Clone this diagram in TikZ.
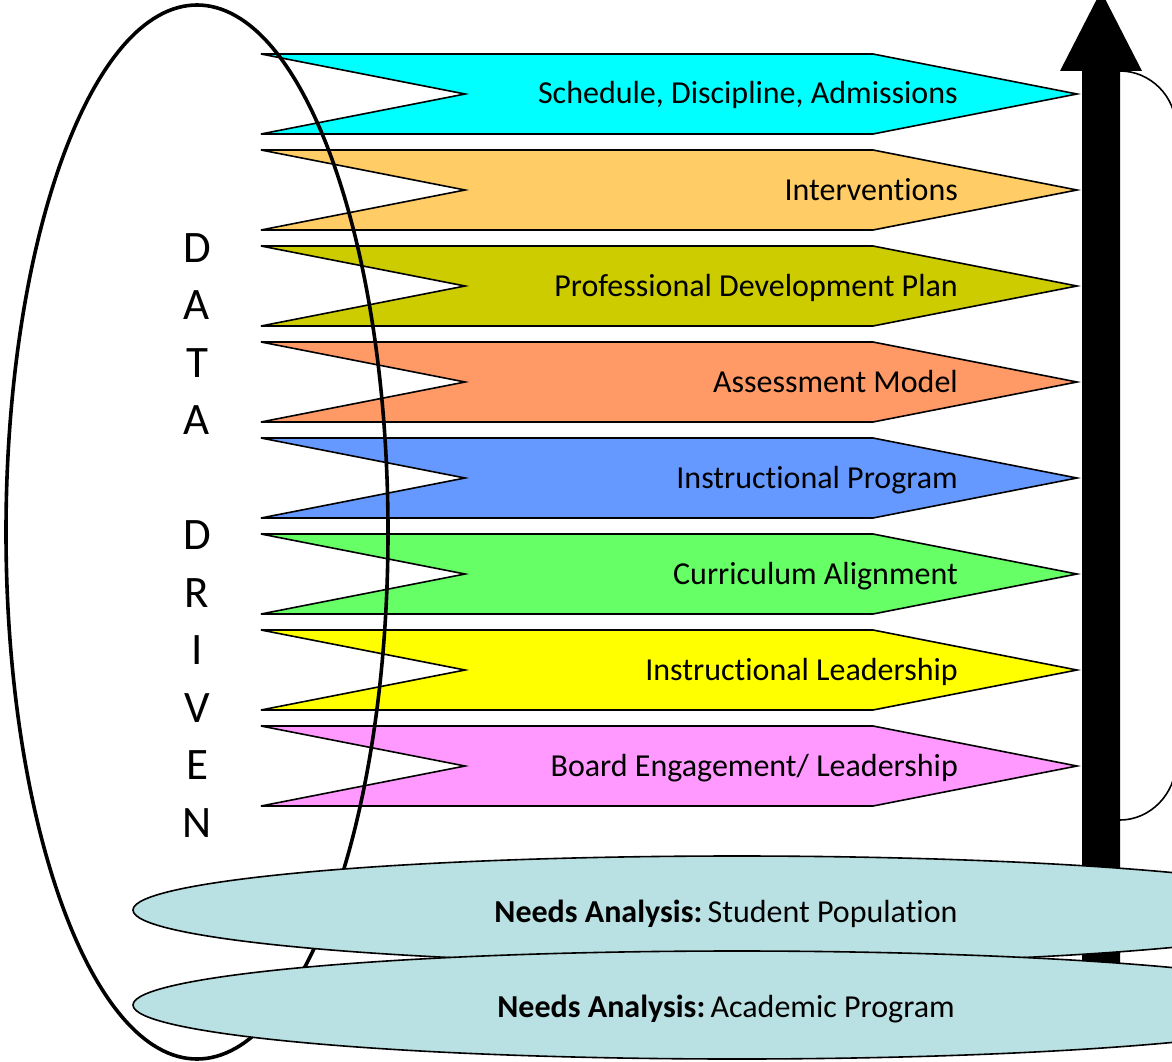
\documentclass[tikz,border=0pt]{standalone}
\usepackage{fontspec}
\setmainfont{Carlito}[Ligatures=NoCommon]
\usepackage{tikz}

\definecolor{schedcol}{HTML}{00FFFF}
\definecolor{intervcol}{HTML}{FFCC66}
\definecolor{profcol}{HTML}{CCCC00}
\definecolor{assesscol}{HTML}{FF9966}
\definecolor{progcol}{HTML}{6699FF}
\definecolor{currcol}{HTML}{66FF66}
\definecolor{leadcol}{HTML}{FFFF00}
\definecolor{boardcol}{HTML}{FF99FF}
\definecolor{needscol}{HTML}{B9E0E3}

\begin{document}
\begin{tikzpicture}[x=1pt,y=-1pt,
	banner/.style={draw=black, line width=1.6pt, line join=miter},
	bannertext/.style={anchor=base east, inner sep=0pt, font=\fontsize{32}{38}\selectfont},
	needs/.style={draw=black, line width=1.6pt, fill=needscol},
	needstext/.style={anchor=base, inner sep=0pt, font=\fontsize{32}{38}\selectfont},
	bigletter/.style={inner sep=0pt, font=\fontsize{45}{54}\selectfont}]
	
	\useasboundingbox (0,0) rectangle (1172,1062);
	\clip (0,0) rectangle (1172,1062);
	
	% the eight banners, top to bottom
	\foreach \c/\col/\txt [count=\i] in {
		94/schedcol/{Schedule, Discipline, Admissions},
		190/intervcol/{Interventions},
		286/profcol/{Professional Development Plan},
		382/assesscol/{Assessment Model},
		478/progcol/{Instructional Program},
		574/currcol/{Curriculum Alignment},
		670/leadcol/{Instructional Leadership},
		766/boardcol/{Board Engagement/ Leadership}}
	{
		\filldraw[banner, fill=\col] (261,\c-40) -- (873,\c-40) -- (1077,\c)
			-- (873,\c+40) -- (261,\c+40) -- (465,\c) -- cycle;
		\node[bannertext] (lbl\i) at (958,\c+10) {\txt};
	}
	
	% data driven loop
	\draw[line width=3.6pt] (197,532) ellipse [x radius=191, y radius=527];
	\foreach \l/\k in {D/0,A/1,T/2,A/3,D/5,R/6,I/7,V/8,E/9,N/10}
		\node[bigletter] (dd\k) at (197,248+57.5*\k) {\l};
	
	% upward arrow
	\coordinate (shaftL) at (1082,965);
	\coordinate (shaftR) at (1120,965);
	\coordinate (tip) at (1101,-9);
	\fill[black] (shaftL) -- (1082,71) -- (1060,71) -- (tip)
		-- (1142,71) -- (1120,71) -- (shaftR) -- cycle;
	
	% bracket on the right
	\coordinate (brTop) at (1120,71);
	\coordinate (brBot) at (1120,820);
	\draw[line width=1.6pt] (brTop) .. controls (1150,71) and (1176,96) .. (1176,128)
		-- (1176,762) .. controls (1176,794) and (1150,820) .. (brBot);
	
	% needs analysis
	\draw[needs] (737,910) ellipse [x radius=604, y radius=54];
	\node[needstext] (needsA) at (726,922) {\textbf{Needs Analysis:}\,Student Population};
	\draw[needs] (737,1005) ellipse [x radius=604, y radius=54];
	\node[needstext] (needsB) at (726,1017) {\textbf{Needs Analysis:}\,Academic Program};
	
\end{tikzpicture}
\end{document}
